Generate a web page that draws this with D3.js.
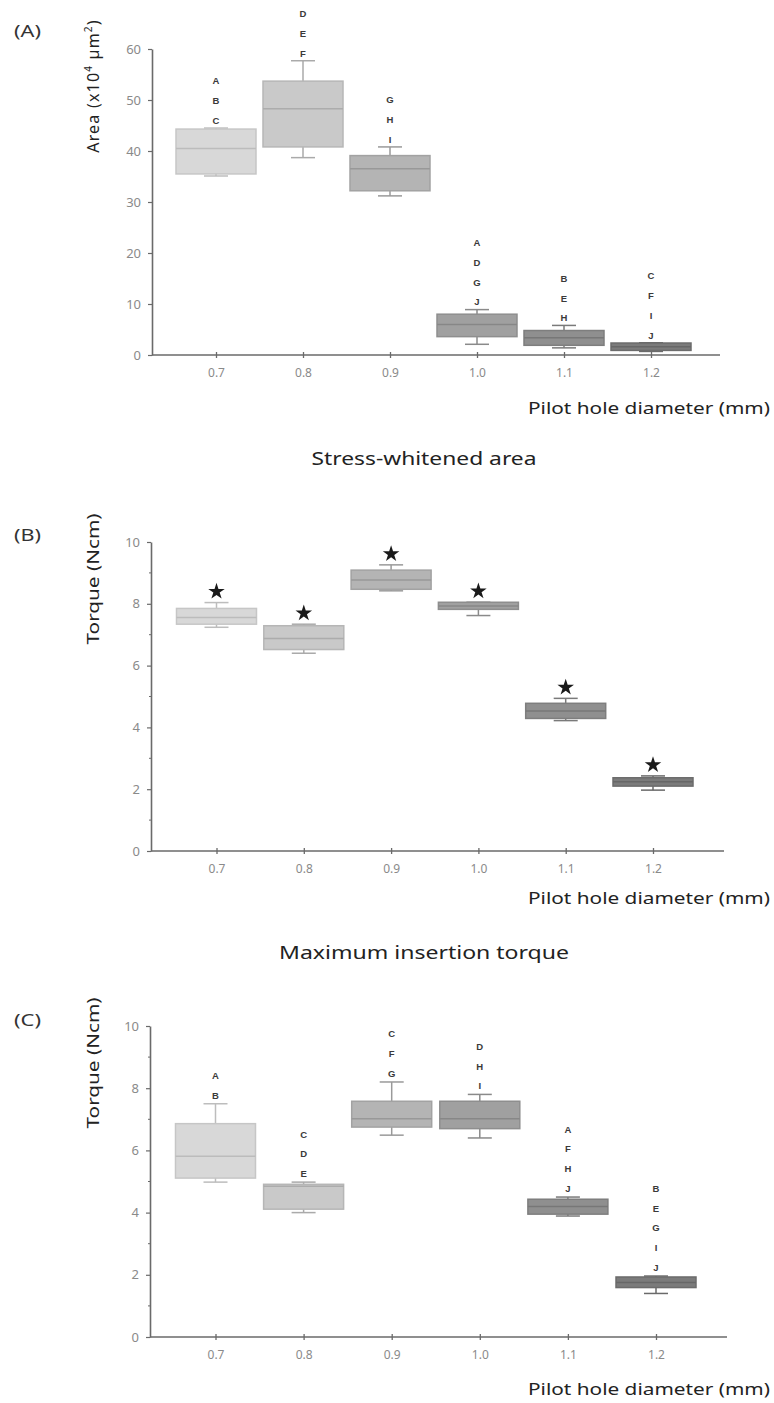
<!DOCTYPE html>
<html>
<head>
<meta charset="utf-8">
<script src="https://cdn.jsdelivr.net/npm/d3@7"></script>
<style>
  body { margin: 0; background: #fff; }
  svg { display: block; }
</style>
</head>
<body>
<svg id="chart" width="774" height="1403"></svg>
<script>
// ---------- data ----------
const categories = ["0.7", "0.8", "0.9", "1.0", "1.1", "1.2"];

// (A) Stress-whitened area (x10^4 µm^2)
const areaLow    = [35.1, 38.7, 31.2, 2.1, 1.4, 0.7];
const areaQ1     = [35.5, 40.8, 32.2, 3.6, 1.9, 0.9];
const areaMedian = [40.5, 48.3, 36.5, 6.0, 3.4, 1.6];
const areaQ3     = [44.3, 53.7, 39.1, 8.0, 4.8, 2.35];
const areaHigh   = [44.5, 57.7, 40.8, 8.9, 5.8, 2.4];
const areaLetters = [["A","B","C"], ["D","E","F"], ["G","H","I"], ["A","D","G","J"], ["B","E","H"], ["C","F","I","J"]];
const areaTicks = [0, 10, 20, 30, 40, 50, 60];

// (B) Maximum insertion torque (Ncm)
const insLow    = [7.24, 6.40, 8.42, 7.62, 4.22, 1.97];
const insQ1     = [7.34, 6.52, 8.47, 7.82, 4.29, 2.10];
const insMedian = [7.56, 6.88, 8.77, 7.93, 4.53, 2.24];
const insQ3     = [7.85, 7.29, 9.09, 8.05, 4.78, 2.37];
const insHigh   = [8.04, 7.34, 9.26, 8.05, 4.94, 2.43];
const insMarks  = ["*", "*", "*", "*", "*", "*"];

// (C) Torque (Ncm)
const torLow    = [4.98, 4.00, 6.49, 6.40, 3.89, 1.40];
const torQ1     = [5.11, 4.11, 6.75, 6.70, 3.95, 1.59];
const torMedian = [5.81, 4.85, 7.02, 7.02, 4.20, 1.75];
const torQ3     = [6.86, 4.91, 7.58, 7.58, 4.43, 1.93];
const torHigh   = [7.50, 4.98, 8.20, 7.80, 4.50, 1.96];
const torLetters = [["A","B"], ["C","D","E"], ["C","F","G"], ["D","H","I"], ["A","F","H","J"], ["B","E","G","I","J"]];
const torqueTicks = [0, 2, 4, 6, 8, 10];
const torqueMinorTicks = [1, 3, 5, 7, 9];

const xTitle = "Pilot hole diameter (mm)";

// ---------- style / layout ----------
const fills   = ["#d8d8d8", "#c9c9c9", "#b4b4b4", "#a0a0a0", "#8f8f8f", "#7b7b7b"];
const strokes = ["#c6c6c6", "#b6b6b6", "#a2a2a2", "#8e8e8e", "#7e7e7e", "#6c6c6c"];
const medians = ["#bcbcbc", "#acacac", "#989898", "#878787", "#777777", "#676767"];
const whisk   = ["#bdbdbd", "#aaaaaa", "#9a9a9a", "#8a8a8a", "#7a7a7a", "#6a6a6a"];

const panels = [
  { tag: "(A)", tagY: 31, yAxisX: 152, xFirst: 216, xLast: 651, xEnd: 720, y0: 355, yTop: 49, yMax: 60,
    ticks: areaTicks, minor: [], low: areaLow, q1: areaQ1, med: areaMedian, q3: areaQ3, high: areaHigh,
    letters: areaLetters, letterOffset: 7.5, stars: null,
    yLabelY: 86, xLabelY: 414, title: "Stress-whitened area", titleY: 465, titleW: 225, area: true },
  { tag: "(B)", tagY: 535, yAxisX: 151, xFirst: 216.5, xLast: 653, xEnd: 724, y0: 851, yTop: 542, yMax: 10,
    ticks: torqueTicks, minor: torqueMinorTicks, low: insLow, q1: insQ1, med: insMedian, q3: insQ3, high: insHigh,
    letters: null, stars: insMarks,
    yLabelY: 579, xLabelY: 904, title: "Maximum insertion torque", titleY: 959, titleW: 290 },
  { tag: "(C)", tagY: 1020, yAxisX: 150, xFirst: 215.5, xLast: 656, xEnd: 727, y0: 1337, yTop: 1026, yMax: 10,
    ticks: torqueTicks, minor: torqueMinorTicks, low: torLow, q1: torQ1, med: torMedian, q3: torQ3, high: torHigh,
    letters: torLetters, letterOffset: 8.5, stars: null,
    yLabelY: 1063, xLabelY: 1395, title: null }
];

const svg = d3.select("#chart");
const boxW = 80, capW = 24, letterStep = 19.7;
const axisColor = "#6a6a6a";
const labelFont = "Noto Sans, sans-serif";

panels.forEach(p => {
  const g = svg.append("g");
  const x = d3.scalePoint().domain(categories).range([p.xFirst, p.xLast]);
  const y = d3.scaleLinear().domain([0, p.yMax]).range([p.y0, p.yTop]);

  // panel tag
  g.append("text").attr("x", 14).attr("y", p.tagY).attr("dy", "0.35em")
    .attr("font-family", labelFont).attr("font-size", 16).attr("fill", "#333")
    .attr("textLength", 27).attr("lengthAdjust", "spacingAndGlyphs")
    .text(p.tag);

  // y axis
  const ya = g.append("g").attr("transform", `translate(${p.yAxisX},0)`)
    .call(d3.axisLeft(y).tickValues(p.ticks).tickSize(4).tickSizeOuter(0).tickPadding(7).tickFormat(d3.format("d")));
  ya.select(".domain").attr("stroke", axisColor).attr("stroke-width", 1.6);
  ya.selectAll(".tick line").attr("stroke", axisColor).attr("stroke-width", 1.2);
  ya.selectAll(".tick text").attr("font-family", labelFont).attr("font-size", 13).attr("fill", "#8a8a8a");
  g.selectAll(".minor").data(p.minor).join("line")
    .attr("x1", p.yAxisX - 2).attr("x2", p.yAxisX)
    .attr("y1", d => y(d)).attr("y2", d => y(d))
    .attr("stroke", axisColor).attr("stroke-width", 1);

  // x axis
  g.append("line").attr("x1", p.yAxisX).attr("x2", p.xEnd).attr("y1", p.y0).attr("y2", p.y0)
    .attr("stroke", axisColor).attr("stroke-width", 1.6);
  const xa = g.append("g").attr("transform", `translate(0,${p.y0})`)
    .call(d3.axisBottom(x).tickSize(3).tickSizeOuter(0).tickPadding(10));
  xa.select(".domain").remove();
  xa.selectAll(".tick line").attr("y1", -3).attr("stroke", axisColor).attr("stroke-width", 1.3);
  xa.selectAll(".tick text").attr("font-family", labelFont).attr("font-size", 12).attr("fill", "#8a8a8a");

  // y label
  const yl = g.append("text")
    .attr("transform", `translate(99,${p.yLabelY}) rotate(-90)`)
    .attr("text-anchor", "middle")
    .attr("font-family", labelFont).attr("font-size", 16).attr("fill", "#222");
  if (p.area) {
    yl.attr("letter-spacing", 1.2);
    yl.append("tspan").text("Area (x10");
    yl.append("tspan").attr("font-size", 10).attr("dy", -7).text("4");
    yl.append("tspan").attr("dy", 7).text(" µm");
    yl.append("tspan").attr("font-size", 10).attr("dy", -7).text("2");
    yl.append("tspan").attr("dy", 7).text(")");
  } else {
    yl.attr("font-size", 17).attr("textLength", 131).attr("lengthAdjust", "spacingAndGlyphs").text("Torque (Ncm)");
  }

  // x label
  g.append("text").attr("x", 770).attr("y", p.xLabelY).attr("text-anchor", "end")
    .attr("font-family", labelFont).attr("font-size", 16).attr("fill", "#222")
    .attr("textLength", 242).attr("lengthAdjust", "spacingAndGlyphs")
    .text(xTitle);

  // title
  if (p.title) {
    g.append("text").attr("x", 424).attr("y", p.titleY).attr("text-anchor", "middle")
      .attr("font-family", labelFont).attr("font-size", 18).attr("fill", "#222")
      .attr("textLength", p.titleW).attr("lengthAdjust", "spacingAndGlyphs")
      .text(p.title);
  }

  // boxes
  const data = categories.map((c, i) => ({ c, i, low: p.low[i], q1: p.q1[i], med: p.med[i], q3: p.q3[i], high: p.high[i] }));
  const bg = g.selectAll(".box").data(data).join("g");
  bg.append("line")
    .attr("x1", d => x(d.c)).attr("x2", d => x(d.c))
    .attr("y1", d => y(d.high)).attr("y2", d => y(d.low))
    .attr("stroke", d => whisk[d.i]).attr("stroke-width", 1.5);
  bg.append("line")
    .attr("x1", d => x(d.c) - capW / 2).attr("x2", d => x(d.c) + capW / 2)
    .attr("y1", d => y(d.high)).attr("y2", d => y(d.high))
    .attr("stroke", d => whisk[d.i]).attr("stroke-width", 1.5);
  bg.append("line")
    .attr("x1", d => x(d.c) - capW / 2).attr("x2", d => x(d.c) + capW / 2)
    .attr("y1", d => y(d.low)).attr("y2", d => y(d.low))
    .attr("stroke", d => whisk[d.i]).attr("stroke-width", 1.5);
  bg.append("rect")
    .attr("x", d => x(d.c) - boxW / 2).attr("width", boxW)
    .attr("y", d => y(d.q3)).attr("height", d => Math.max(1, y(d.q1) - y(d.q3)))
    .attr("fill", d => fills[d.i]).attr("stroke", d => strokes[d.i]).attr("stroke-width", 1.5);
  bg.append("line")
    .attr("x1", d => x(d.c) - boxW / 2).attr("x2", d => x(d.c) + boxW / 2)
    .attr("y1", d => y(d.med)).attr("y2", d => y(d.med))
    .attr("stroke", d => medians[d.i]).attr("stroke-width", 1.5);

  // letters
  if (p.letters) {
    categories.forEach((c, i) => {
      const ls = p.letters[i];
      const n = ls.length;
      g.selectAll(null).data(ls).join("text")
        .attr("x", x(c))
        .attr("y", (d, k) => y(p.high[i]) - p.letterOffset - (n - 1 - k) * letterStep)
        .attr("dy", "0.35em")
        .attr("text-anchor", "middle")
        .attr("font-family", "Liberation Sans, Arial, sans-serif").attr("font-weight", "bold")
        .attr("font-size", 9.5).attr("fill", "#3a3a3a")
        .text(d => d);
    });
  }
  // stars
  if (p.stars) {
    g.selectAll(".star").data(data).join("path")
      .attr("transform", d => `translate(${x(d.c)},${y(d.high) - 11})`)
      .attr("d", d3.symbol(d3.symbolStar).size(85))
      .attr("fill", "#1a1a1a");
  }
});
</script>
</body>
</html>
